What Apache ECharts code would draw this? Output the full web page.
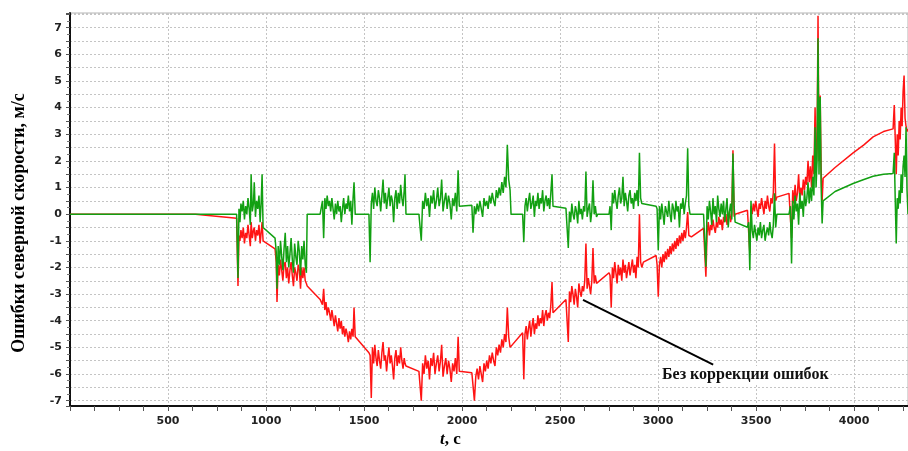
<!DOCTYPE html>
<html>
<head>
<meta charset="utf-8">
<script src="https://cdn.jsdelivr.net/npm/echarts@6/dist/echarts.min.js"></script>
<style>
  html, body { margin: 0; padding: 0; background: #fff; }
  #chart { width: 908px; height: 451px; }
</style>
</head>
<body>
<div id="chart"></div>
<script>
// time, s (shared by both series)
const time = [
  0, 640, 850,
  857, 862, 867, 872, 878, 884, 890, 896, 902, 908, 914, 920, 924, 930, 936, 940, 946, 952, 958, 964, 970, 975, 980, 985,
  1046, 1052, 1056, 1062, 1068, 1074, 1080, 1086, 1092, 1098, 1104, 1110, 1116, 1122, 1128, 1134, 1140, 1146, 1152, 1158, 1164, 1170, 1176, 1182, 1188, 1194, 1200, 1206,
  1210, 1276,
  1282, 1288, 1294, 1300, 1306, 1312, 1318, 1324, 1330, 1336, 1342, 1348, 1354, 1360, 1366, 1372, 1378, 1384, 1390, 1396, 1402, 1408, 1414, 1420, 1426, 1432, 1438, 1444, 1449, 1455,
  1460, 1525,
  1531, 1537, 1543, 1549, 1555, 1561, 1567, 1573, 1579, 1585, 1591, 1597, 1603, 1609, 1615, 1621, 1627, 1633, 1639, 1645, 1651, 1657, 1663, 1669, 1675, 1681, 1687, 1693, 1699, 1705, 1709,
  1714, 1780,
  1786, 1792, 1799, 1806, 1813, 1820, 1827, 1834, 1841, 1848, 1855, 1862, 1869, 1876, 1883, 1890, 1896, 1903, 1910, 1917, 1924, 1931, 1938, 1945, 1952, 1959, 1966, 1973, 1980, 1986,
  1992, 2050,
  2056, 2063, 2070, 2077, 2084, 2091, 2098, 2105, 2112, 2119, 2126, 2133, 2140, 2147, 2154, 2161, 2168, 2175, 2182, 2189, 2196, 2203, 2210, 2217, 2224, 2231, 2238, 2245,
  2250, 2309,
  2315, 2321, 2327, 2333, 2339, 2345, 2351, 2357, 2363, 2369, 2375, 2381, 2387, 2393, 2399, 2405, 2411, 2417, 2423, 2429, 2435, 2441, 2447, 2453, 2459, 2464,
  2470, 2530,
  2536, 2542, 2548, 2554, 2560, 2566, 2572, 2578, 2584, 2590, 2596, 2602, 2608, 2614, 2620, 2626, 2632, 2638, 2644, 2650, 2656, 2662, 2668, 2674, 2680, 2686,
  2692, 2750,
  2755, 2761, 2767, 2773, 2779, 2785, 2791, 2797, 2803, 2809, 2815, 2821, 2827, 2833, 2839, 2845, 2851, 2857, 2863, 2869, 2875, 2881, 2887, 2893, 2899, 2905, 2911, 2917,
  2925, 2990,
  2995, 3001, 3007, 3013, 3019, 3025, 3031, 3037, 3043, 3049, 3055, 3061, 3067, 3073, 3079, 3085, 3091, 3097, 3103, 3109, 3115, 3121, 3127, 3133, 3139, 3145, 3151, 3157, 3163,
  3170, 3232,
  3238, 3244, 3250, 3256, 3262, 3268, 3274, 3280, 3286, 3292, 3298, 3304, 3310, 3316, 3322, 3328, 3334, 3340, 3346, 3352, 3358, 3364, 3370, 3376, 3382, 3388, 3393,
  3400, 3456,
  3462, 3468, 3474, 3480, 3486, 3492, 3498, 3504, 3510, 3516, 3522, 3528, 3534, 3540, 3546, 3552, 3558, 3564, 3570, 3576, 3582, 3588, 3594, 3600, 3606,
  3668,
  3675, 3681, 3687, 3693, 3699, 3705, 3711, 3717, 3723, 3729, 3735, 3741, 3747, 3753, 3759, 3765, 3771, 3777, 3783, 3789, 3795, 3801, 3806, 3811, 3816, 3821, 3827, 3832, 3837, 3842,
  3903, 3995, 4050, 4097, 4150, 4199,
  4205, 4210, 4215, 4220, 4225, 4230, 4235, 4240, 4245, 4250, 4255, 4260, 4265, 4270, 4275
];

// error without correction (red), m/s
const errRaw = [
  0, 0, -0.15,
  -2.7, -0.8, -1.0, -0.6, -0.9, -0.5, -1.1, -0.7, -0.9, -0.4, -0.8, -1.2, -0.3, -0.9, -0.6, -0.5, -1.0, -0.6, -0.8, -0.4, -1.1, -0.7, -0.3, -1.0,
  -1.3, -1.8, -3.3, -1.9, -2.3, -1.7, -2.1, -2.5, -1.9, -1.8, -2.4, -2.0, -2.6, -2.1, -1.8, -2.3, -2.7, -2.0, -2.2, -2.5, -1.9, -2.1, -2.8, -2.0, -2.4, -2.0, -2.5, -2.6,
  -2.7, -3.2,
  -3.2, -3.4, -2.8, -3.6, -3.3, -3.8, -3.5, -3.7, -4.0, -3.6, -3.9, -4.2, -3.8, -4.1, -4.4, -3.9, -4.3, -4.0, -4.5, -4.2, -4.6, -4.3, -4.5, -4.8, -4.4, -4.7, -4.3, -4.6, -3.5, -4.6,
  -4.6, -5.2,
  -5.3, -6.9, -5.0, -5.6, -4.9, -5.4, -5.7, -5.1, -5.5, -5.8, -5.2, -4.8, -5.5, -5.3, -5.9, -5.4, -5.0, -5.6, -5.3, -5.7, -6.2, -5.4, -5.1, -5.7, -5.3, -5.6, -5.0, -5.5, -5.8, -5.4, -5.6,
  -5.7, -5.9,
  -5.9, -7.0, -5.6, -6.0, -5.3, -5.8, -5.5, -6.2, -5.4, -5.7, -5.2, -6.0, -5.6, -5.3, -5.9, -5.5, -4.9, -6.1, -5.7, -5.4, -6.0, -5.5, -5.8, -6.3, -5.6, -5.9, -5.4, -6.0, -4.6, -5.9,
  -5.95, -5.95,
  -6.0, -7.0, -6.1, -5.8, -6.2, -5.7, -6.0, -6.3, -5.6, -5.9, -5.5, -5.8, -5.3, -5.6, -5.2, -5.5, -5.7, -5.0, -5.3, -4.9, -5.2, -4.7, -5.0, -4.5, -4.8, -3.5, -4.6, -5.0,
  -5.0, -4.45,
  -6.2, -4.5, -4.2, -4.7, -4.3, -4.0, -4.6, -4.2, -3.9, -4.5, -4.1, -4.3, -3.8, -4.2, -3.9, -4.1, -3.6, -4.2, -3.8, -3.6, -4.0, -3.7, -3.9, -3.4, -2.55, -3.7,
  -3.7, -3.2,
  -3.2, -4.8, -2.9, -3.3, -2.7, -3.0, -3.4, -2.8, -3.1, -3.5, -2.6, -2.9, -3.1, -2.7, -2.9, -2.5, -1.1, -2.8, -2.4, -2.7, -3.0, -2.5, -1.27, -2.6, -2.3, -2.6,
  -2.55, -2.2,
  -2.3, -3.5, -2.0, -2.4, -1.8, -2.2, -2.6, -1.9, -2.3, -2.0, -2.5, -1.7, -2.2, -1.9, -2.4, -2.1, -1.8, -2.3, -2.0, -1.7, -2.2, -1.9, -2.4, -1.6, -2.0, 0.0, -1.8, -2.0,
  -1.8, -1.55,
  -1.9, -3.1, -1.9, -1.6, -2.0, -1.5, -1.8, -1.4, -1.7, -1.3, -1.6, -1.2, -1.5, -1.1, -1.4, -1.0, -1.3, -0.9, -1.2, -0.8, -1.1, -0.7, -1.0, -0.6, -0.9, -0.5, 0.08, -0.8, -0.85,
  -0.85, -0.53,
  -0.6, -2.35, -0.7, -0.3, -0.8, -0.4, -0.6, -0.2, -0.5, -0.7, -0.3, -0.5, -0.1, -0.4, -0.2, -0.6, -0.1, -0.3, 0.0, -0.4, -0.2, 0.1, -0.3, 0.0, 2.4, -0.1, 0.0,
  0.0, 0.15,
  0.1, -1.46, 0.3, 0.0, 0.4, 0.1, 0.5, 0.2, -0.1, 0.4, 0.2, 0.6, 0.3, 0.0, 0.5, 0.2, 0.7, 0.3, 0.1, 0.6, 0.4, 0.8, 2.65, 0.5, 0.64,
  0.78,
  0.8, -0.9, 0.9, 0.4, 1.1, 0.5, 0.8, 1.5, 0.6, 1.0, 0.7, 1.3, 0.9, 1.4, 1.1, 2.0, 1.2, 1.8, 1.0, 2.2, 1.5, 4.0, 1.7, 2.5, 7.45, 2.0, 4.45, 1.6, 0.5, 1.35,
  1.75, 2.3, 2.6, 2.9, 3.1, 3.2,
  4.1, 2.8, 1.5, 3.0, 2.2, 3.5, 2.8, 4.0, 3.3, 4.6, 5.2, 3.6, 3.3, 3.1, 3.2
];

// error with correction (green), m/s
const errCorr = [
  0, 0, 0,
  -2.4, 0.2, -0.3, 0.4, 0.1, 0.5, -0.2, 0.3, 0.0, 0.6, 0.2, -0.4, 1.5, 0.1, 0.4, 1.2, -0.1, 0.5, 0.2, 0.7, -0.3, 0.4, 1.5, -0.5,
  -0.9, -1.4, -2.8, -1.2, -1.9, -1.0, -1.6, -2.1, -1.3, -0.7, -1.8, -1.2, -2.0, -1.5, -0.9, -1.7, -2.2, -1.1, -1.6, -1.9, -1.0, -1.4, -2.3, -1.2, -1.7, -1.0, -1.9, -2.2,
  0, 0,
  0.0, 0.5, -0.9, 0.6, 0.2, 0.7, 0.3, 0.5, 0.1, 0.6, 0.2, -0.2, 0.4, 0.0, 0.5, 0.1, 0.3, -0.3, 0.2, 0.6, 0.0, 0.4, 0.2, 0.7, 0.1, 0.5, -0.4, 0.6, 1.2, 0.0,
  0, 0,
  -1.8, 0.4, 0.8, 0.2, 1.0, 0.5, 0.3, 0.9, 0.6, 0.1, 0.7, 1.3, 0.4, 0.8, 0.2, 0.6, 1.0, 0.3, 0.7, 0.5, -0.3, 0.6, 0.9, 0.2, 0.8, 0.4, 1.1, 0.6, 0.3, 0.9, 1.5,
  0, 0,
  0.0, -1.0, 0.5, 0.2, 0.8, 0.3, 0.6, -0.1, 0.7, 0.4, 0.9, 0.2, 0.5, 1.0, 0.3, 0.6, 1.3, 0.1, 0.5, 0.8, 0.2, 0.7, 0.4, -0.2, 0.6, 0.3, 0.8, 0.1, 1.65, 0.3,
  0.33, 0.33,
  -0.7, 0.3, 0.0, 0.4, 0.1, 0.5, 0.2, -0.1, 0.6, 0.3, 0.5, 0.2, 0.7, 0.4, 0.8, 0.5, 0.3, 0.9, 0.6, 1.0, 0.7, 1.2, 0.8, 1.4, 1.0, 2.6, 1.3, 0.9,
  0, 0,
  -1.05, 0.3, 0.6, 0.1, 0.5, 0.8, 0.2, 0.4, 0.7, -0.1, 0.5, 0.3, 0.8, 0.2, 0.6, 0.4, 0.9, 0.1, 0.5, 0.7, 0.3, 0.6, 0.2, 0.8, 1.5, 0.3,
  0.33, 0.22,
  0.2, -1.27, 0.1, -0.3, 0.4, 0.0, -0.2, 0.3, 0.1, -0.35, 0.5, 0.0, 0.2, -0.2, 0.3, 0.1, 1.6, -0.1, 0.2, 0.4, -0.3, 0.1, 1.27, 0.0, 0.3, -0.1,
  0, 0,
  0.3, -0.6, 0.8, 0.4, 0.9, 0.5, 0.2, 0.7, 1.0, 0.4, 0.6, 1.4, 0.3, 0.8, 0.5, 0.1, 0.7, 0.9, 0.4, 0.6, 0.2, 0.8, 0.5, 0.9, 0.3, 2.3, 0.6, 0.4,
  0.45, 0.3,
  0.2, -1.35, 0.3, -0.2, 0.4, 0.0, -0.4, 0.3, 0.1, -0.1, 0.5, 0.0, -0.3, 0.4, 0.2, -0.2, 0.5, 0.1, 0.3, -0.5, 0.4, 0.2, 0.6, 0.0, 0.4, 0.7, 2.47, 0.3, 0.0,
  0, 0,
  0.0, -1.97, 0.3, -0.2, 0.5, 0.1, -0.4, 0.6, 0.0, 0.3, -0.3, 0.7, 0.2, -0.1, 0.4, 0.0, 0.5, -0.3, 0.2, 0.6, -0.5, 0.1, 0.4, -0.2, 2.28, 0.3, -0.3,
  -0.3, -0.49,
  -0.3, -2.1, 0.5, -0.6, -0.9, -0.4, -0.7, -1.0, -0.5, -0.8, -0.3, -0.9, -0.6, -0.4, -1.0, -0.7, -0.5, -0.8, -0.3, -0.7, -0.9, -0.4, 0.78, -0.5, 0.0,
  0,
  0.3, -1.85, 0.5, -0.2, 0.7, 0.1, 0.4, -0.4, 0.8, 0.2, 0.5, -0.1, 0.9, 0.3, 0.6, 1.2, 0.4, 1.0, 0.5, 1.4, 0.7, 3.26, 1.0, 2.0, 6.6, 1.5, 4.4, 1.0, -0.35, 0.5,
  0.85, 1.15, 1.3, 1.42, 1.5, 1.53,
  2.3, 0.5, -1.1, 0.6, 0.2, 0.9, 0.4, 1.5, 0.8, 1.8, 2.2, 1.4, 3.26, 0.9, 0.0
];

// annotation pointer (data coords) and its text
const calloutFrom = [2617, -3.22];
const calloutTo = [3281, -5.65];
const calloutText = 'Без коррекции ошибок';
const yTitle = 'Ошибки северной скорости, м/с';

const chart = echarts.init(document.getElementById('chart'));

const labelFont = { fontFamily: 'DejaVu Sans', fontWeight: 'bold', fontSize: 11, color: '#222' };
const gridLine = { show: true, lineStyle: { color: '#c4c4c4', width: 1, type: [2, 2] } };

chart.setOption({
  animation: false,
  backgroundColor: '#fff',
  grid: {
    left: 70, right: 0, top: 13, bottom: 45,
    containLabel: false, outerBoundsMode: 'none',
    show: true, borderColor: '#b4b4b4', borderWidth: 1
  },
  xAxis: {
    type: 'value',
    min: 0,
    max: 4275,
    interval: 500,
    axisLine: { onZero: false, lineStyle: { color: '#111', width: 2 } },
    axisTick: { show: true, length: 5, lineStyle: { color: '#555' } },
    minorTick: { show: true, splitNumber: 4, length: 5, lineStyle: { color: '#555' } },
    axisLabel: Object.assign({ margin: 10, showMaxLabel: false,
      formatter: v => (v > 0 && v % 500 === 0) ? String(v) : '' }, labelFont),
    splitLine: gridLine
  },
  yAxis: {
    type: 'value',
    min: -7.2,
    max: 7.55,
    splitNumber: 30,
    axisLine: { show: true, onZero: false, lineStyle: { color: '#111', width: 2 } },
    axisTick: { show: true, length: 4, lineStyle: { color: '#555' } },
    minorTick: { show: true, splitNumber: 2, length: 3, lineStyle: { color: '#777' } },
    axisLabel: Object.assign({ margin: 8,
      formatter: v => Number.isInteger(v) ? String(v) : '' }, labelFont),
    splitLine: gridLine
  },
  graphic: [
    {
      type: 'text', x: 19, y: 223, rotation: Math.PI / 2,
      style: {
        text: yTitle, font: 'bold 18px "Liberation Serif"', fill: '#000',
        align: 'center', verticalAlign: 'middle'
      }
    },
    {
      type: 'text', left: 440, top: 431,
      style: {
        text: '{i|t}, с',
        rich: { i: { fontStyle: 'italic', fontFamily: 'Liberation Serif', fontWeight: 'bold', fontSize: 17, fill: '#000' } },
        font: 'bold 17px "Liberation Serif"', fill: '#000'
      }
    },
    {
      type: 'text', left: 660, top: 366, z: 10,
      style: {
        text: calloutText, font: 'bold 16px "Liberation Serif"', fill: '#111',
        backgroundColor: '#fff', padding: [1, 2, 1, 2]
      }
    }
  ],
  series: [
    {
      name: 'raw',
      type: 'line',
      data: time.map((t, i) => [t, errRaw[i]]),
      showSymbol: false,
      lineStyle: { color: '#ff1414', width: 1.5 },
      itemStyle: { color: '#ff1414' },
      z: 2,
      markLine: {
        silent: true,
        symbol: ['none', 'none'],
        label: { show: false },
        lineStyle: { color: '#000', width: 2, type: 'solid' },
        data: [[{ coord: calloutFrom }, { coord: calloutTo }]]
      }
    },
    {
      name: 'corrected',
      type: 'line',
      data: time.map((t, i) => [t, errCorr[i]]),
      showSymbol: false,
      lineStyle: { color: '#12a012', width: 1.5 },
      itemStyle: { color: '#12a012' },
      z: 3
    }
  ]
});
</script>
</body>
</html>
